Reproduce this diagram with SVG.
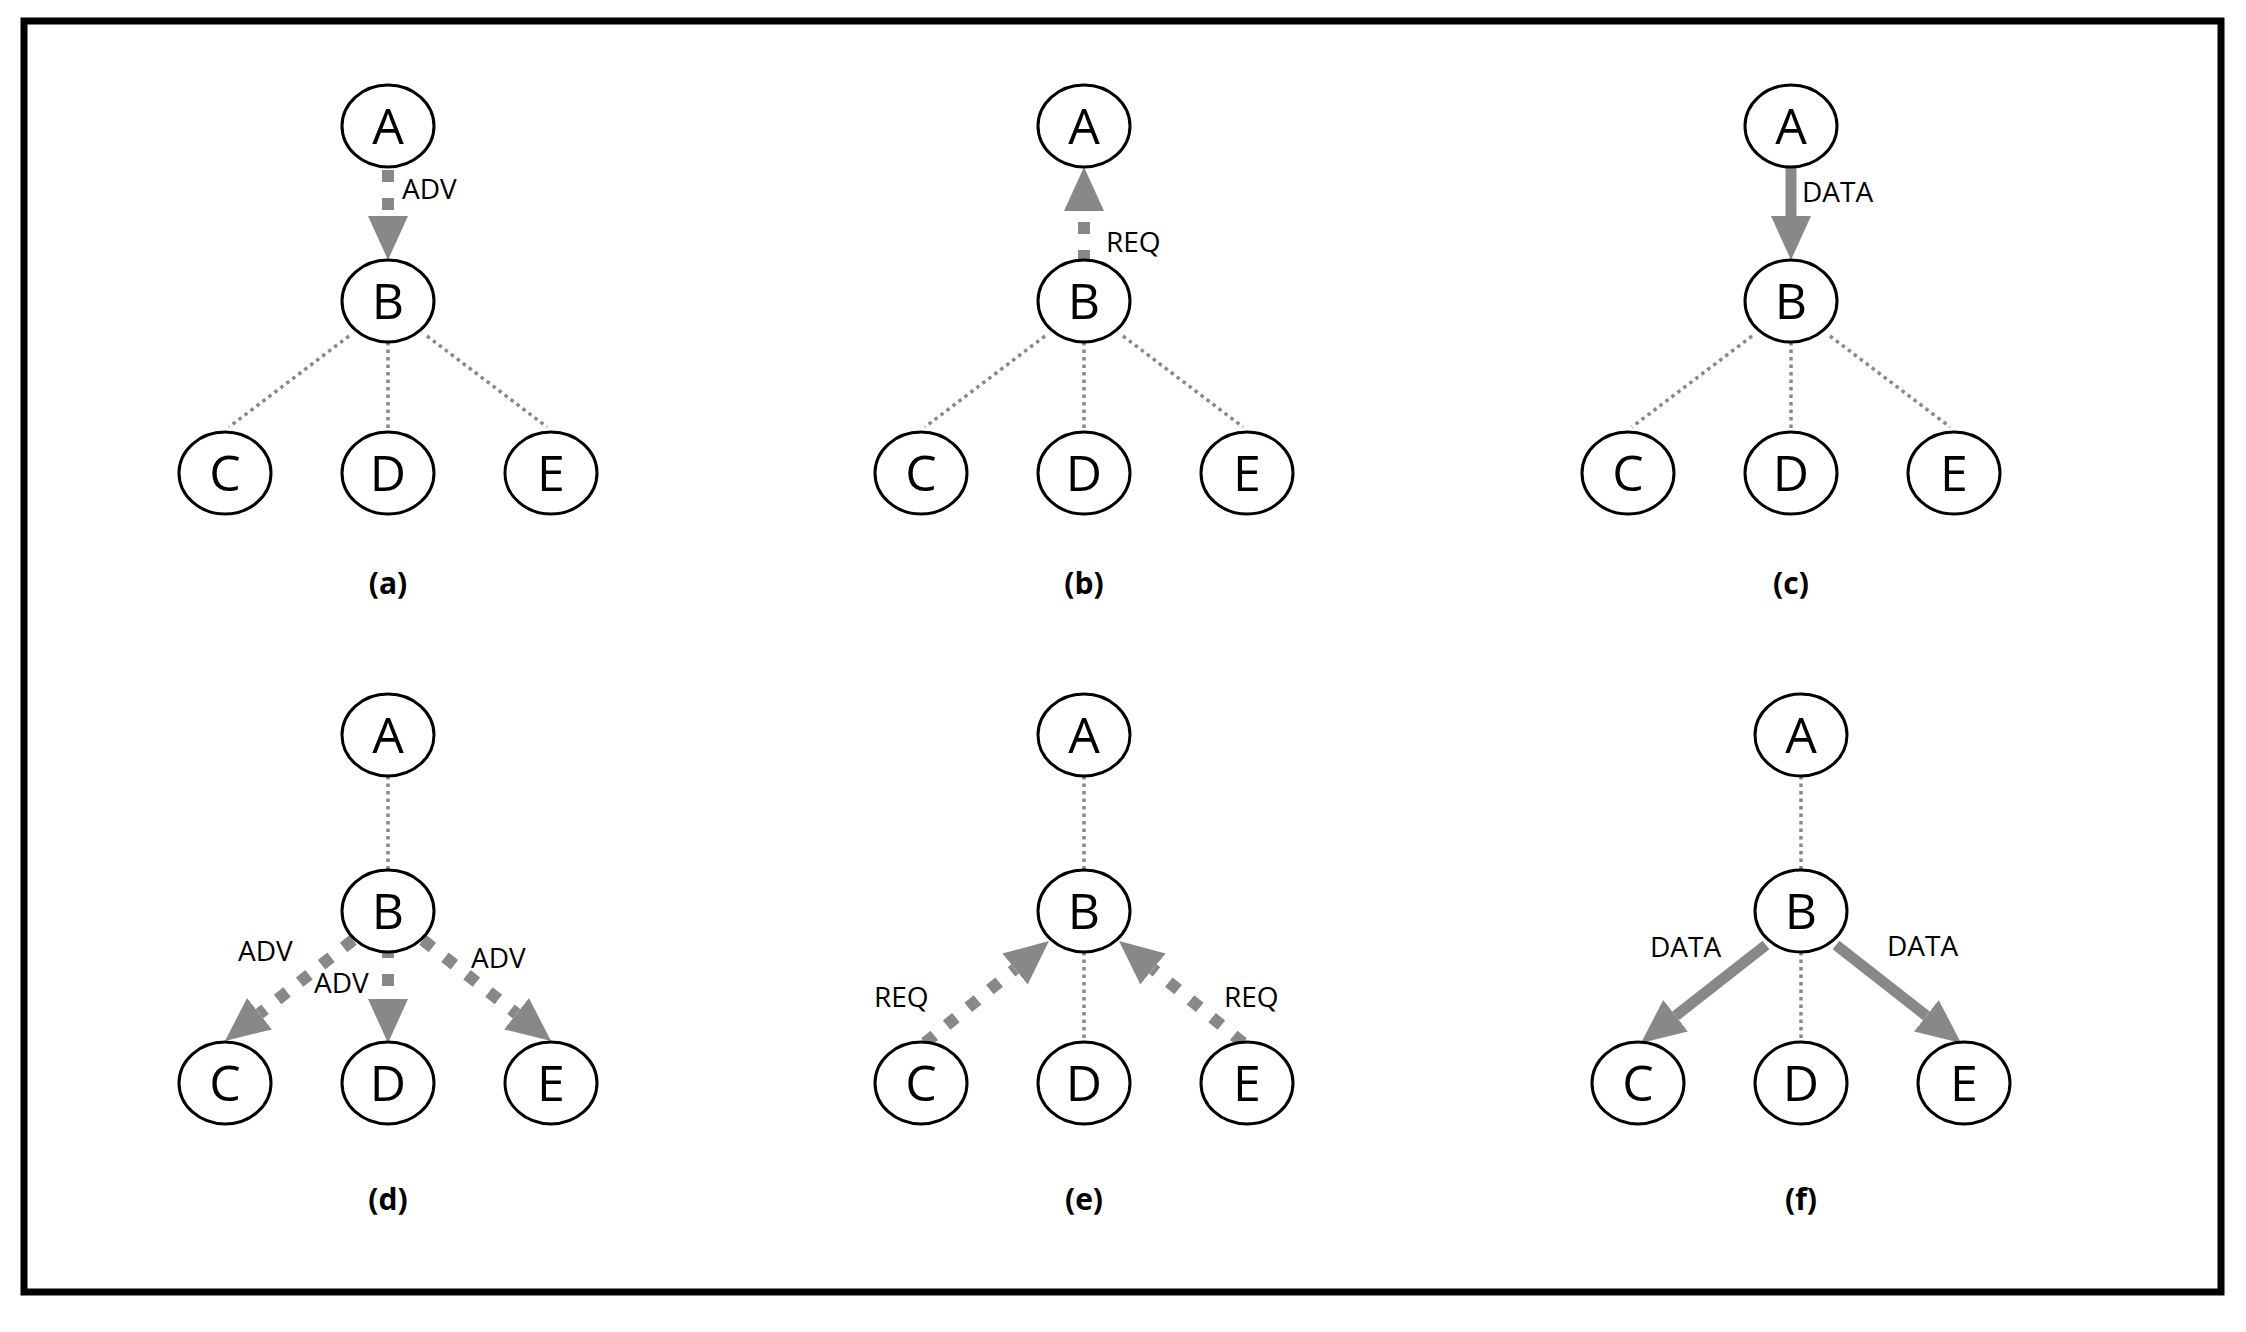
<svg xmlns="http://www.w3.org/2000/svg" width="2246" height="1332" viewBox="0 0 2246 1332">
<style>
.n ellipse{fill:#fff;stroke:#000;stroke-width:3}
.n text{font-family:"Open Sans","DejaVu Sans",sans-serif;font-size:50px;text-anchor:middle;fill:#000}
.dot{stroke:#888;stroke-width:3.5;stroke-dasharray:3.5 4;fill:none}
.dash{stroke:#888;stroke-width:12;stroke-dasharray:12 16;fill:none}
.sol{stroke:#888;stroke-width:11;fill:none}
.lb{font-family:"Open Sans","DejaVu Sans",sans-serif;font-size:28px;fill:#000}
.cap{font-family:"Open Sans","DejaVu Sans",sans-serif;font-size:30px;font-weight:bold;text-anchor:middle;fill:#000}
</style>
<defs>
<marker id="ah" markerUnits="userSpaceOnUse" markerWidth="44" markerHeight="40" refX="0" refY="20" orient="auto" viewBox="0 0 44 40"><path d="M0,0 L44,20 L0,40 z" fill="#888"/></marker>
</defs>
<rect x="24" y="21" width="2197" height="1271" fill="#fff" stroke="#000" stroke-width="7"/>
<g id="connectors">
<path class="dot" d="M349,336 L229,427 M388,342 L388,432 M427,336 L547,427"/>
<path class="dot" d="M1045,336 L925,427 M1084,342 L1084,432 M1123,336 L1243,427"/>
<path class="dot" d="M1752,336 L1632,427 M1791,342 L1791,432 M1830,336 L1950,427"/>
<path class="dot" d="M388,776 L388,870 M1084,776 L1084,870 M1801,776 L1801,870"/>
<path class="dot" d="M1084,952 L1084,1042 M1801,952 L1801,1042"/>
<path class="dash" d="M388,170 L388,216" marker-end="url(#ah)"/>
<path class="dash" d="M1084,262 L1084,211" marker-end="url(#ah)"/>
<path class="sol" d="M1791,167 L1791,216" marker-end="url(#ah)"/>
<path class="dash" d="M353,940 L259.5,1013.7" marker-end="url(#ah)"/>
<path class="dash" d="M388,946 L388,999" marker-end="url(#ah)"/>
<path class="dash" d="M423,940 L516.5,1013.7" marker-end="url(#ah)"/>
<path class="dash" d="M925,1043 L1015,969" marker-end="url(#ah)"/>
<path class="dash" d="M1243,1043 L1153,969" marker-end="url(#ah)"/>
<path class="sol" d="M1766,945 L1675.6,1015.8" marker-end="url(#ah)"/>
<path class="sol" d="M1836,945 L1926.4,1015.8" marker-end="url(#ah)"/>
</g>
<g id="labels">
<text class="lb" x="402" y="199">ADV</text>
<text class="lb" x="1106" y="252">REQ</text>
<text class="lb" x="1802" y="202">DATA</text>
<text class="lb" x="238" y="961">ADV</text>
<text class="lb" x="314" y="993">ADV</text>
<text class="lb" x="471" y="968">ADV</text>
<text class="lb" x="874" y="1007">REQ</text>
<text class="lb" x="1224" y="1007">REQ</text>
<text class="lb" x="1650" y="957">DATA</text>
<text class="lb" x="1887" y="956">DATA</text>
<text class="cap" x="388" y="594">(a)</text>
<text class="cap" x="1084" y="594">(b)</text>
<text class="cap" x="1791" y="594">(c)</text>
<text class="cap" x="388" y="1210">(d)</text>
<text class="cap" x="1084" y="1210">(e)</text>
<text class="cap" x="1801" y="1210">(f)</text>
</g>
<g id="a-A" class="n"><ellipse cx="388" cy="126" rx="46" ry="41"/><text x="388" y="144">A</text></g>
<g id="a-B" class="n"><ellipse cx="388" cy="301" rx="46" ry="41"/><text x="388" y="319">B</text></g>
<g id="a-C" class="n"><ellipse cx="225" cy="473" rx="46" ry="41"/><text x="225" y="491">C</text></g>
<g id="a-D" class="n"><ellipse cx="388" cy="473" rx="46" ry="41"/><text x="388" y="491">D</text></g>
<g id="a-E" class="n"><ellipse cx="551" cy="473" rx="46" ry="41"/><text x="551" y="491">E</text></g>
<g id="b-A" class="n"><ellipse cx="1084" cy="126" rx="46" ry="41"/><text x="1084" y="144">A</text></g>
<g id="b-B" class="n"><ellipse cx="1084" cy="301" rx="46" ry="41"/><text x="1084" y="319">B</text></g>
<g id="b-C" class="n"><ellipse cx="921" cy="473" rx="46" ry="41"/><text x="921" y="491">C</text></g>
<g id="b-D" class="n"><ellipse cx="1084" cy="473" rx="46" ry="41"/><text x="1084" y="491">D</text></g>
<g id="b-E" class="n"><ellipse cx="1247" cy="473" rx="46" ry="41"/><text x="1247" y="491">E</text></g>
<g id="c-A" class="n"><ellipse cx="1791" cy="126" rx="46" ry="41"/><text x="1791" y="144">A</text></g>
<g id="c-B" class="n"><ellipse cx="1791" cy="301" rx="46" ry="41"/><text x="1791" y="319">B</text></g>
<g id="c-C" class="n"><ellipse cx="1628" cy="473" rx="46" ry="41"/><text x="1628" y="491">C</text></g>
<g id="c-D" class="n"><ellipse cx="1791" cy="473" rx="46" ry="41"/><text x="1791" y="491">D</text></g>
<g id="c-E" class="n"><ellipse cx="1954" cy="473" rx="46" ry="41"/><text x="1954" y="491">E</text></g>
<g id="d-A" class="n"><ellipse cx="388" cy="735" rx="46" ry="41"/><text x="388" y="753">A</text></g>
<g id="d-B" class="n"><ellipse cx="388" cy="911" rx="46" ry="41"/><text x="388" y="929">B</text></g>
<g id="d-C" class="n"><ellipse cx="225" cy="1083" rx="46" ry="41"/><text x="225" y="1101">C</text></g>
<g id="d-D" class="n"><ellipse cx="388" cy="1083" rx="46" ry="41"/><text x="388" y="1101">D</text></g>
<g id="d-E" class="n"><ellipse cx="551" cy="1083" rx="46" ry="41"/><text x="551" y="1101">E</text></g>
<g id="e-A" class="n"><ellipse cx="1084" cy="735" rx="46" ry="41"/><text x="1084" y="753">A</text></g>
<g id="e-B" class="n"><ellipse cx="1084" cy="911" rx="46" ry="41"/><text x="1084" y="929">B</text></g>
<g id="e-C" class="n"><ellipse cx="921" cy="1083" rx="46" ry="41"/><text x="921" y="1101">C</text></g>
<g id="e-D" class="n"><ellipse cx="1084" cy="1083" rx="46" ry="41"/><text x="1084" y="1101">D</text></g>
<g id="e-E" class="n"><ellipse cx="1247" cy="1083" rx="46" ry="41"/><text x="1247" y="1101">E</text></g>
<g id="f-A" class="n"><ellipse cx="1801" cy="735" rx="46" ry="41"/><text x="1801" y="753">A</text></g>
<g id="f-B" class="n"><ellipse cx="1801" cy="911" rx="46" ry="41"/><text x="1801" y="929">B</text></g>
<g id="f-C" class="n"><ellipse cx="1638" cy="1083" rx="46" ry="41"/><text x="1638" y="1101">C</text></g>
<g id="f-D" class="n"><ellipse cx="1801" cy="1083" rx="46" ry="41"/><text x="1801" y="1101">D</text></g>
<g id="f-E" class="n"><ellipse cx="1964" cy="1083" rx="46" ry="41"/><text x="1964" y="1101">E</text></g>
</svg>
